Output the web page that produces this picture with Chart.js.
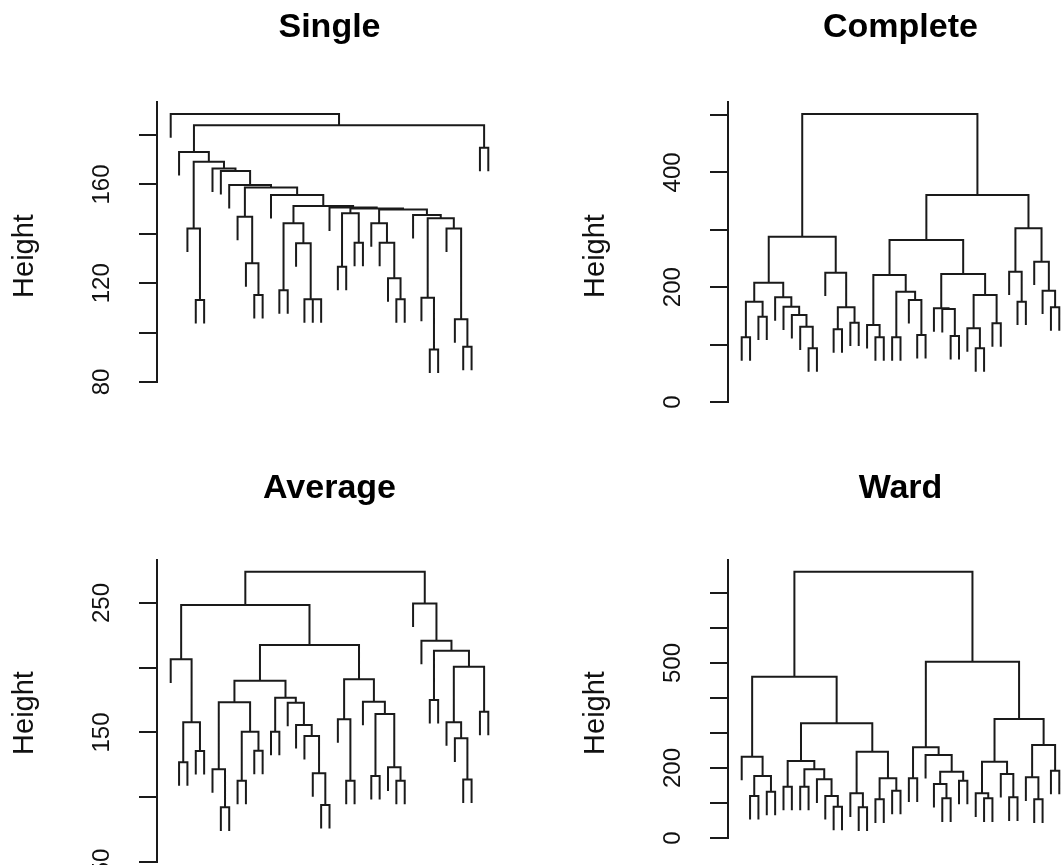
<!DOCTYPE html>
<html>
<head>
<meta charset="utf-8">
<script src="https://cdn.jsdelivr.net/npm/chart.js@4.4.1/dist/chart.umd.min.js"></script>
<style>
html,body{margin:0;padding:0;background:#fff;overflow:hidden;width:1064px;height:865px;position:relative}
canvas{position:absolute}
</style>
</head>
<body>
<canvas id="p0"></canvas>
<canvas id="p1"></canvas>
<canvas id="p2"></canvas>
<canvas id="p3"></canvas>
<script>
// ---------- DATA: dendrogram trees, node = [mergeHeight, left, right], leaf = 0 ----------
const titles = ['Single', 'Complete', 'Average', 'Ward'];

const singleTree =
[188.5, 0,
 [184.0,
  [173.2, 0,
   [169.2,
    [142.2, 0, [113.2, 0, 0]],
    [166.5, 0,
     [165.5, 0,
      [159.8, 0,
       [158.8,
        [146.9, 0, [128.1, 0, [115.2, 0, 0]]],
        [155.7, 0,
         [151.3,
          [144.3, [117.2, 0, 0], [136.2, 0, [113.5, 0, [113.5, 0, 0]]]],
          [150.7, 0,
           [150.3,
            [148.3, [126.7, 0, 0], [136.4, 0, 0]],
            [149.9,
             [144.3, 0, [136.4, 0, [122.0, 0, [113.5, 0, 0]]]],
             [147.6, 0,
              [146.3, [114.1, 0, [93.2, 0, 0]], [142.2, 0, [105.4, 0, [94.3, 0, 0]]]]
             ]
            ]
           ]
          ]
         ]
        ]
       ]
      ]
     ]
    ]
   ]
  ],
  [174.9, 0, 0]
 ]
];

const completeTree =
[501.7,
 [288.0,
  [207.9,
   [174.8, [112.7, 0, 0], [148.7, 0, 0]],
   [182.3, 0, [166.1, 0, [151.6, 0, [131.2, 0, [93.5, 0, 0]]]]]
  ],
  [225.3, 0, [164.9, [126.6, 0, 0], [138.2, 0, 0]]]
 ],
 [360.6,
  [282.2,
   [221.3,
    [134.1, 0, [112.7, 0, 0]],
    [192.2, [112.7, 0, 0], [177.7, 0, [116.7, 0, 0]]]
   ],
   [223.0,
    [163.2, 0, [162.0, 0, [115.0, 0, 0]]],
    [186.4, [128.3, 0, [93.5, 0, 0]], [137.1, 0, 0]]
   ]
  ],
  [302.5,
   [227.1, 0, [174.8, 0, 0]],
   [244.5, 0, [194.0, 0, [164.9, 0, 0]]]
  ]
 ]
];

const averageTree =
[274.2,
 [248.5,
  [206.5, 0, [157.9, [127.0, 0, 0], [135.7, 0, 0]]],
  [217.6,
   [190.0,
    [173.3,
     [121.6, 0, [92.2, 0, 0]],
     [150.6, [112.8, 0, 0], [136.0, 0, 0]]
    ],
    [176.9,
     [150.6, 0, 0],
     [173.0, 0, [155.8, 0, [147.3, 0, [118.5, 0, [94.0, 0, 0]]]]]
    ]
   ],
   [191.1,
    [160.2, 0, [112.8, 0, 0]],
    [173.8, 0, [164.3, [116.4, 0, 0], [123.1, 0, [112.8, 0, 0]]]]
   ]
  ]
 ],
 [249.7, 0,
  [220.9, 0,
   [213.2,
    [175.1, 0, 0],
    [200.8, [157.9, 0, [145.5, 0, [113.8, 0, 0]]], [166.1, 0, 0]]
   ]
  ]
 ]
];

const wardTree =
[761.0,
 [461.0,
  [232.4, 0, [177.1, [120.0, 0, 0], [132.4, 0, 0]]],
  [327.6,
   [220.0,
    [146.7, 0, 0],
    [196.2, [146.7, 0, 0], [167.6, 0, [120.0, 0, [89.5, 0, 0]]]]
   ],
   [246.7,
    [127.6, 0, [87.6, 0, 0]],
    [170.5, [110.5, 0, 0], [135.2, 0, 0]]
   ]
  ]
 ],
 [503.8,
  [259.0,
   [170.5, 0, 0],
   [237.1, 0, [189.5, [154.3, 0, [113.3, 0, 0]], [163.8, 0, 0]]]
  ],
  [340.0,
   [218.1, [127.6, 0, [113.3, 0, 0]], [182.9, 0, [116.2, 0, 0]]],
   [265.7, [173.3, 0, [110.5, 0, 0]], [192.4, 0, 0]]
  ]
 ]
];

// axis ticks and which ticks carry a label
const singleTicks   = [80, 100, 120, 140, 160, 180];
const singleLabels  = [80, 120, 160];
const completeTicks = [0, 100, 200, 300, 400, 500];
const completeLabels= [0, 200, 400];
const averageTicks  = [50, 100, 150, 200, 250];
const averageLabels = [50, 150, 250];
const wardTicks     = [0, 100, 200, 300, 400, 500, 600, 700];
const wardLabels    = [0, 200, 500];

// ---------- LAYOUT / STYLE ----------
const FONT = '"Liberation Sans", Arial, Helvetica, sans-serif';
const INK = '#1a1a1a';
const PLOT_W = 345;
const panels = [
  {title: titles[0], tree: singleTree,   ticks: singleTicks,   labels: singleLabels,   yMin: 80, yMax: 193.4, x: 0,   y: 0,   w: 532, h: 460, L: 157, T: 102, B: 382, titleY: 37, ylabY: 256},
  {title: titles[1], tree: completeTree, ticks: completeTicks, labels: completeLabels, yMin: 0,  yMax: 522.6, x: 532, y: 0,   w: 560, h: 460, L: 196, T: 102, B: 402, titleY: 37, ylabY: 256},
  {title: titles[2], tree: averageTree,  ticks: averageTicks,  labels: averageLabels,  yMin: 50, yMax: 283.2, x: 0,   y: 460, w: 532, h: 405, L: 157, T: 100, B: 402, titleY: 38, ylabY: 253},
  {title: titles[3], tree: wardTree,     ticks: wardTicks,     labels: wardLabels,     yMin: 0,  yMax: 794.3, x: 532, y: 460, w: 560, h: 405, L: 196, T: 100, B: 378, titleY: 38, ylabY: 253}
];

// turn a tree into dendrogram polyline points (leaf positions 1..n, hang = 10% of height range)
function dendroSegments(tree) {
  const hs = [];
  (function collect(n) { if (n === 0) return; hs.push(n[0]); collect(n[1]); collect(n[2]); })(tree);
  const hang = 0.1 * (Math.max(...hs) - Math.min(...hs));
  let leaf = 0;
  const pts = [];
  function walk(n) {
    if (n === 0) { leaf += 1; return {x: leaf, leaf: true}; }
    const a = walk(n[1]), b = walk(n[2]), h = n[0];
    const ay = a.leaf ? h - hang : a.h;
    const by = b.leaf ? h - hang : b.h;
    pts.push({x: a.x, y: ay}, {x: a.x, y: h}, {x: b.x, y: h}, {x: b.x, y: by}, {x: b.x, y: null});
    return {x: (a.x + b.x) / 2, h: h};
  }
  walk(tree);
  return {pts: pts, n: leaf};
}

function textPlugin(p) {
  return {
    id: 'rtext',
    afterDraw(chart) {
      const ctx = chart.ctx, a = chart.chartArea, ys = chart.scales.y;
      ctx.save();
      ctx.fillStyle = '#000';
      ctx.textAlign = 'center';
      ctx.textBaseline = 'alphabetic';
      ctx.font = 'bold 34px ' + FONT;
      ctx.fillText(p.title, (a.left + a.right) / 2, p.titleY);
      ctx.fillStyle = '#111';
      ctx.font = '24px ' + FONT;
      p.labels.forEach(v => {
        const y = ys.getPixelForValue(v);
        ctx.save();
        ctx.translate(a.left - 48.4, y);
        ctx.rotate(-Math.PI / 2);
        ctx.fillText(String(v), 0, 0);
        ctx.restore();
      });
      ctx.font = '29px ' + FONT;
      ctx.save();
      ctx.translate(a.left - 123.6, p.ylabY);
      ctx.rotate(-Math.PI / 2);
      ctx.fillText('Height', 0, 0);
      ctx.restore();
      ctx.restore();
    }
  };
}

panels.forEach((p, i) => {
  const cv = document.getElementById('p' + i);
  cv.width = p.w; cv.height = p.h;
  cv.style.left = p.x + 'px'; cv.style.top = p.y + 'px';
  cv.style.width = p.w + 'px'; cv.style.height = p.h + 'px';
  const d = dendroSegments(p.tree);
  const pad = 1.64;
  new Chart(cv.getContext('2d'), {
    type: 'line',
    data: {datasets: [{
      data: d.pts, borderColor: INK, borderWidth: 2, pointRadius: 0,
      spanGaps: false, tension: 0, fill: false, borderJoinStyle: 'miter', borderCapStyle: 'butt'
    }]},
    options: {
      responsive: false, animation: false, events: [],
      layout: {padding: {left: p.L - 20, top: p.T, bottom: p.h - p.B, right: p.w - (p.L + PLOT_W)}},
      plugins: {legend: {display: false}, tooltip: {enabled: false}, title: {display: false}},
      scales: {
        x: {type: 'linear', display: false, min: 1 - pad, max: d.n + pad},
        y: {
          type: 'linear', min: p.yMin, max: p.yMax,
          afterBuildTicks: s => { s.ticks = p.ticks.map(v => ({value: v})); },
          afterFit: s => { s.width = 20; },
          ticks: {display: false},
          grid: {display: true, drawOnChartArea: false, drawTicks: true, tickLength: 18, color: INK, lineWidth: 2},
          border: {display: true, color: INK, width: 2}
        }
      }
    },
    plugins: [textPlugin(p)]
  });
});
</script>
</body>
</html>
